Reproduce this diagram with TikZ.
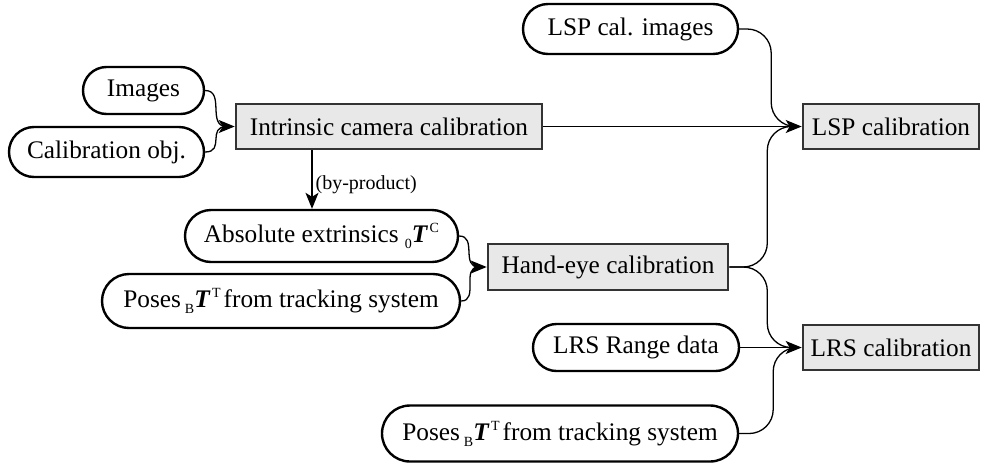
\documentclass[tikz,border=0pt]{standalone}
\usepackage{fontspec}
\setmainfont{Liberation Serif}
\usetikzlibrary{arrows.meta,shapes.misc,calc}
\newcommand{\lsub}[1]{\raisebox{-6pt}{\fontsize{14}{14}\selectfont #1}}
\newcommand{\lsup}[1]{\hspace{1.5pt}\raisebox{10pt}{\fontsize{14}{14}\selectfont #1}}
\newcommand{\bT}{\textbf{\textit{T}}}
\begin{document}
\begin{tikzpicture}[x=1pt,y=-1pt,
  every node/.style={font=\fontsize{25.3}{30}\selectfont, inner sep=0pt},
  procbox/.style={draw=black!80, line width=2.6pt, fill=black!9, rectangle},
  pill/.style={draw=black, line width=2.4pt, fill=white, rounded rectangle},
  wire/.style={line width=1.3pt},
  tip/.style={line width=1.3pt, -{Stealth[length=16pt,width=13pt,inset=4pt]}},
  small/.style={font=\fontsize{20}{24}\selectfont}
]
\useasboundingbox (0,0) rectangle (981,464);

\node[pill, minimum width=215pt, minimum height=50pt] (lspimg) at (630.5,29) {LSP cal. images};
\node[pill, minimum width=121pt, minimum height=47pt] (img) at (143.5,90.5) {Images};
\node[pill, minimum width=195pt, minimum height=50pt] (calib) at (106.5,152) {Calibration obj.};
\node[procbox, minimum width=306pt, minimum height=45pt] (intr) at (389,126.5) {Intrinsic camera calibration};
\node[procbox, minimum width=176pt, minimum height=45pt] (lspcal) at (891,126.5) {LSP calibration};
\node[pill, minimum width=273pt, minimum height=52pt] (abs) at (321.5,236) {Absolute extrinsics \lsub{0}\bT\lsup{C}};
\node[pill, minimum width=358pt, minimum height=54pt] (poses1) at (281,301) {Poses\hspace{4pt}\lsub{B}\bT\lsup{T}\hspace{3pt}from tracking system};
\node[procbox, minimum width=240pt, minimum height=46pt] (he) at (608,267) {Hand-eye calibration};
\node[pill, minimum width=206pt, minimum height=47pt] (lrsrange) at (636,347.5) {LRS Range data};
\node[procbox, minimum width=176pt, minimum height=45pt] (lrscal) at (891,347.5) {LRS calibration};
\node[pill, minimum width=356pt, minimum height=56pt] (poses2) at (560,433.5) {Poses\hspace{4pt}\lsub{B}\bT\lsup{T}\hspace{3pt}from tracking system};

% by-product arrow
\draw[tip] ([xshift=-77pt]intr.south) -- ([xshift=-77pt]intr.south |- abs.north)
  node[pos=0.59, right, small, xshift=3pt] (bp) {(by-product)};

% inputs of intrinsic calibration
\draw[wire] (img.east) .. controls +(20,0) and +(-20,0) .. ([xshift=-8pt]intr.west);
\draw[wire] (calib.east) .. controls +(20,0) and +(-20,0) .. ([xshift=-8pt]intr.west);
\draw[tip] ([xshift=-10pt]intr.west) -- (intr.west);

% inputs of LSP calibration
\draw[wire] (intr.east) -- ([xshift=-8pt]lspcal.west);
\draw[wire, rounded corners=24pt] (lspimg.east) -- ++(32,0) |- ([xshift=-8pt]lspcal.west);
\draw[wire, rounded corners=24pt] (he.east) -- ++(38,0) |- ([xshift=-8pt]lspcal.west);
\draw[tip] ([xshift=-10pt]lspcal.west) -- (lspcal.west);

% inputs of LRS calibration
\draw[wire, rounded corners=24pt] (he.east) -- ++(38,0) |- ([xshift=-8pt]lrscal.west);
\draw[wire] (lrsrange.east) -- ([xshift=-8pt]lrscal.west);
\draw[wire, rounded corners=24pt] (poses2.east) -- ++(34,0) |- ([xshift=-8pt]lrscal.west);
\draw[tip] ([xshift=-10pt]lrscal.west) -- (lrscal.west);

% inputs of hand-eye calibration
\draw[wire] (abs.east) .. controls +(18,0) and +(-18,0) .. ([xshift=-8pt]he.west);
\draw[wire] (poses1.east) .. controls +(18,0) and +(-18,0) .. ([xshift=-8pt]he.west);
\draw[tip] ([xshift=-10pt]he.west) -- (he.west);
\end{tikzpicture}
\end{document}
